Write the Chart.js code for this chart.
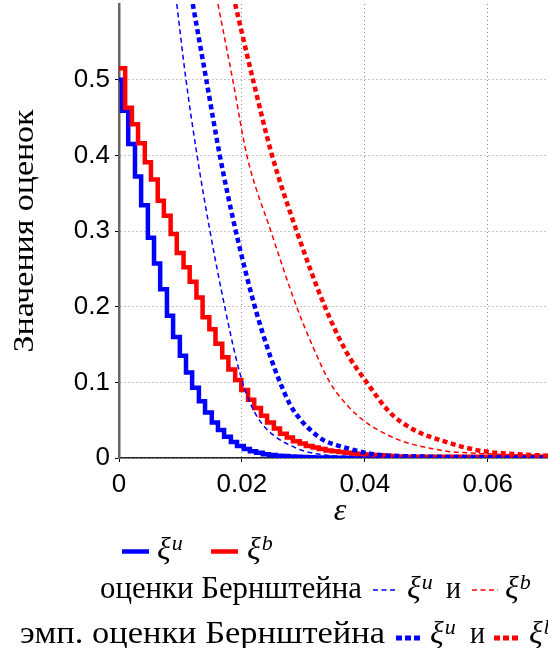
<!DOCTYPE html>
<html>
<head>
<meta charset="utf-8">
<script src="https://cdn.jsdelivr.net/npm/chart.js@4.4.1/dist/chart.umd.min.js"></script>
<style>
  html, body { margin: 0; padding: 0; background: #fff; overflow: hidden; }
  #wrap { position: relative; width: 548px; height: 648px; }
</style>
</head>
<body>
<div id="wrap"><canvas id="chart" width="548" height="648"></canvas></div>
<script>
// axis ticks
const xTicks = [0, 0.02, 0.04, 0.06];
const xTickLabels = ['0', '0.02', '0.04', '0.06'];
const yTicks = [0, 0.1, 0.2, 0.3, 0.4, 0.5];
const yTickLabels = ['0', '0.1', '0.2', '0.3', '0.4', '0.5'];

// empirical xi^u (step function)
const uEps = [0, 0.0005, 0.0015, 0.0026, 0.0036, 0.0047, 0.0057, 0.0067, 0.0078, 0.0088, 0.0099, 0.0109, 0.0119, 0.0130, 0.0140, 0.0151, 0.0161, 0.0171, 0.0182, 0.0192, 0.0203, 0.0213, 0.0223, 0.0234, 0.0244, 0.0255, 0.0265, 0.0275, 0.0286, 0.0296, 0.0307, 0.0317, 0.0327, 0.0338, 0.0348, 0.0359, 0.0698];
const uVal = [0.500, 0.459, 0.415, 0.372, 0.334, 0.291, 0.257, 0.223, 0.188, 0.160, 0.135, 0.113, 0.093, 0.075, 0.060, 0.047, 0.037, 0.028, 0.021, 0.016, 0.012, 0.009, 0.007, 0.005, 0.004, 0.003, 0.0025, 0.002, 0.0015, 0.0012, 0.001, 0.0008, 0.0006, 0.0005, 0.0004, 0.0003, 0.0003];

// empirical xi^b (step function)
const bEps = [0, 0.0010, 0.0021, 0.0031, 0.0042, 0.0052, 0.0063, 0.0073, 0.0084, 0.0094, 0.0105, 0.0115, 0.0126, 0.0136, 0.0147, 0.0157, 0.0168, 0.0178, 0.0189, 0.0199, 0.0210, 0.0220, 0.0231, 0.0241, 0.0252, 0.0262, 0.0273, 0.0283, 0.0294, 0.0304, 0.0315, 0.0325, 0.0336, 0.0346, 0.0357, 0.0367, 0.0378, 0.0388, 0.0399, 0.0409, 0.0420, 0.0430, 0.0441, 0.0451, 0.0462, 0.0698];
const bVal = [0.515, 0.463, 0.441, 0.416, 0.391, 0.368, 0.340, 0.320, 0.296, 0.271, 0.252, 0.233, 0.212, 0.186, 0.170, 0.151, 0.133, 0.117, 0.103, 0.090, 0.077, 0.066, 0.056, 0.047, 0.039, 0.032, 0.027, 0.022, 0.019, 0.016, 0.014, 0.012, 0.010, 0.009, 0.008, 0.007, 0.006, 0.005, 0.0045, 0.004, 0.0035, 0.003, 0.0025, 0.002, 0.0015, 0.0012];

// Bernstein bound for xi^u
const bernUEps = [0.0094, 0.0109, 0.0127, 0.0148, 0.0172, 0.0191, 0.0205, 0.0221, 0.0237, 0.0255, 0.0278, 0.0302, 0.0335, 0.0376, 0.0424, 0.0538, 0.0698];
const bernUVal = [0.6, 0.5, 0.4, 0.3, 0.2, 0.13, 0.09, 0.06, 0.041, 0.028, 0.017, 0.009, 0.004, 0.002, 0.001, 0.0003, 0.0001];

// Bernstein bound for xi^b
const bernBEps = [0.0161, 0.0185, 0.0208, 0.0247, 0.0289, 0.0315, 0.0343, 0.0371, 0.0397, 0.0424, 0.0452, 0.0478, 0.0506, 0.0533, 0.0566, 0.0615, 0.0698];
const bernBVal = [0.6, 0.5, 0.4, 0.3, 0.2, 0.148, 0.1, 0.07, 0.05, 0.036, 0.025, 0.018, 0.013, 0.009, 0.007, 0.005, 0.003];

// empirical Bernstein bound for xi^u
const empUEps = [0.0120, 0.0142, 0.0164, 0.0190, 0.0221, 0.0248, 0.0262, 0.0278, 0.0296, 0.0313, 0.0332, 0.0354, 0.0376, 0.0397, 0.0424, 0.0478, 0.0587, 0.0698];
const empUVal = [0.6, 0.5, 0.4, 0.3, 0.2, 0.13, 0.1, 0.071, 0.05, 0.036, 0.024, 0.017, 0.012, 0.0075, 0.004, 0.0022, 0.001, 0.0007];

// empirical Bernstein bound for xi^b
const empBEps = [0.0189, 0.0218, 0.0249, 0.0289, 0.0335, 0.0370, 0.0403, 0.0441, 0.0478, 0.0533, 0.0587, 0.0641, 0.0698];
const empBVal = [0.6, 0.5, 0.4, 0.3, 0.2, 0.14, 0.1, 0.06, 0.038, 0.021, 0.0097, 0.0053, 0.003];

const BLUE = '#0000ff';
const RED = '#ff0000';
const THIN_DASH = [5, 3.5];
const DOT_DASH = [5, 3.5];

const pts = (xs, ys) => xs.map((x, i) => ({ x: x, y: ys[i] }));

// texts drawn by hand: axis titles and the three legend rows
const SERIF = '"Liberation Serif", "DejaVu Serif", serif';

function fitText(ctx, text, x, y, w, font) {
    ctx.save();
    ctx.font = font;
    const m = ctx.measureText(text).width;
    ctx.translate(x, y);
    ctx.scale(w / m, 1);
    ctx.textAlign = 'left';
    ctx.textBaseline = 'alphabetic';
    ctx.fillText(text, 0, 0);
    ctx.restore();
}

function sample(ctx, x1, x2, y, color, width, dash) {
    ctx.save();
    ctx.strokeStyle = color;
    ctx.lineWidth = width;
    ctx.setLineDash(dash);
    ctx.beginPath();
    ctx.moveTo(x1, y);
    ctx.lineTo(x2, y);
    ctx.stroke();
    ctx.restore();
}

function xi(ctx, x, y, sup) {
    ctx.save();
    ctx.textAlign = 'left';
    ctx.textBaseline = 'alphabetic';
    ctx.font = 'italic 32px ' + SERIF;
    ctx.fillText('ξ', x, y);
    const w = ctx.measureText('ξ').width;
    ctx.font = 'italic 22px ' + SERIF;
    ctx.fillText(sup, x + w + 1, y - 9);
    ctx.restore();
}

const annot = {
    id: 'annot',
    afterDraw(chart) {
        const ctx = chart.ctx;
        ctx.save();
        ctx.fillStyle = '#000';

        // x title
        ctx.font = 'italic 32px ' + SERIF;
        ctx.textAlign = 'center';
        ctx.textBaseline = 'alphabetic';
        ctx.fillText('ε', 340, 520);

        // y title
        ctx.save();
        ctx.translate(33, 231);
        ctx.rotate(-Math.PI / 2);
        ctx.font = '30px ' + SERIF;
        const yt = 'Значения оценок';
        const m = ctx.measureText(yt).width;
        ctx.scale(243 / m, 1);
        ctx.textAlign = 'center';
        ctx.fillText(yt, 0, 0);
        ctx.restore();

        // legend row 1
        sample(ctx, 122, 149, 551.5, BLUE, 4.5, []);
        xi(ctx, 157, 559, 'u');
        sample(ctx, 211, 238, 551.5, RED, 4.5, []);
        xi(ctx, 247, 559, 'b');

        // legend row 2
        fitText(ctx, 'оценки Бернштейна', 100, 598, 262, '31px ' + SERIF);
        sample(ctx, 373, 398, 590, BLUE, 1.5, THIN_DASH);
        xi(ctx, 407, 598, 'u');
        fitText(ctx, 'и', 446, 598, 15, '31px ' + SERIF);
        sample(ctx, 472, 498, 590, RED, 1.5, THIN_DASH);
        xi(ctx, 505, 598, 'b');

        // legend row 3
        fitText(ctx, 'эмп. оценки Бернштейна', 20, 643, 365, '31px ' + SERIF);
        sample(ctx, 396, 422, 638, BLUE, 5, [6, 3]);
        xi(ctx, 430, 643, 'u');
        fitText(ctx, 'и', 470, 643, 15, '31px ' + SERIF);
        sample(ctx, 494, 520, 638, RED, 5, [6, 3]);
        xi(ctx, 529, 643, 'b');

        ctx.restore();
    }
};

const tickFont = { family: '"Liberation Sans", Arial, sans-serif', size: 26 };

new Chart(document.getElementById('chart').getContext('2d'), {
    type: 'line',
    data: {
        datasets: [
            { label: 'ξu', data: pts(uEps, uVal), borderColor: BLUE, borderWidth: 4.5, stepped: true, order: 6 },
            { label: 'ξb', data: pts(bEps, bVal), borderColor: RED, borderWidth: 4.5, stepped: true, order: 5 },
            { label: 'оценки Бернштейна ξu', data: pts(bernUEps, bernUVal), borderColor: BLUE, borderWidth: 1.5, borderDash: THIN_DASH, cubicInterpolationMode: 'monotone', order: 4 },
            { label: 'оценки Бернштейна ξb', data: pts(bernBEps, bernBVal), borderColor: RED, borderWidth: 1.5, borderDash: THIN_DASH, cubicInterpolationMode: 'monotone', order: 3 },
            { label: 'эмп. оценки Бернштейна ξu', data: pts(empUEps, empUVal), borderColor: BLUE, borderWidth: 4.5, borderDash: DOT_DASH, cubicInterpolationMode: 'monotone', order: 2 },
            { label: 'эмп. оценки Бернштейна ξb', data: pts(empBEps, empBVal), borderColor: RED, borderWidth: 4.5, borderDash: DOT_DASH, cubicInterpolationMode: 'monotone', order: 1 }
        ]
    },
    options: {
        responsive: false,
        animation: false,
        layout: { padding: { top: 4, left: 0, right: 0, bottom: 0 } },
        elements: { point: { radius: 0 } },
        plugins: { legend: { display: false }, tooltip: { enabled: false } },
        scales: {
            x: {
                type: 'linear', min: 0, max: 0.0698,
                afterBuildTicks: s => { s.ticks = xTicks.map(v => ({ value: v })); },
                afterFit: s => { s.height = 190; s.paddingLeft = 0; s.paddingRight = 0; },
                grid: { color: '#8a8a8a', lineWidth: 1, tickLength: 4, tickColor: '#000', tickBorderDash: [] },
                border: { color: '#222', width: 1.5, dash: [1, 3] },
                ticks: { font: tickFont, color: '#000', padding: 7, maxRotation: 0, autoSkip: false, callback: (v, i) => xTickLabels[i] }
            },
            y: {
                type: 'linear', min: 0, max: 0.6,
                afterBuildTicks: s => { s.ticks = yTicks.map(v => ({ value: v })); },
                afterFit: s => { s.width = 119; s.paddingTop = 0; s.paddingBottom = 0; },
                grid: { color: '#8a8a8a', lineWidth: 1, tickLength: 4, tickColor: '#000', tickBorderDash: [] },
                border: { color: '#666', width: 2.5, dash: [1, 3] },
                ticks: { font: tickFont, color: '#000', padding: 5, autoSkip: false, callback: (v, i) => yTickLabels[i] }
            }
        }
    },
    plugins: [annot]
});
</script>
</body>
</html>
